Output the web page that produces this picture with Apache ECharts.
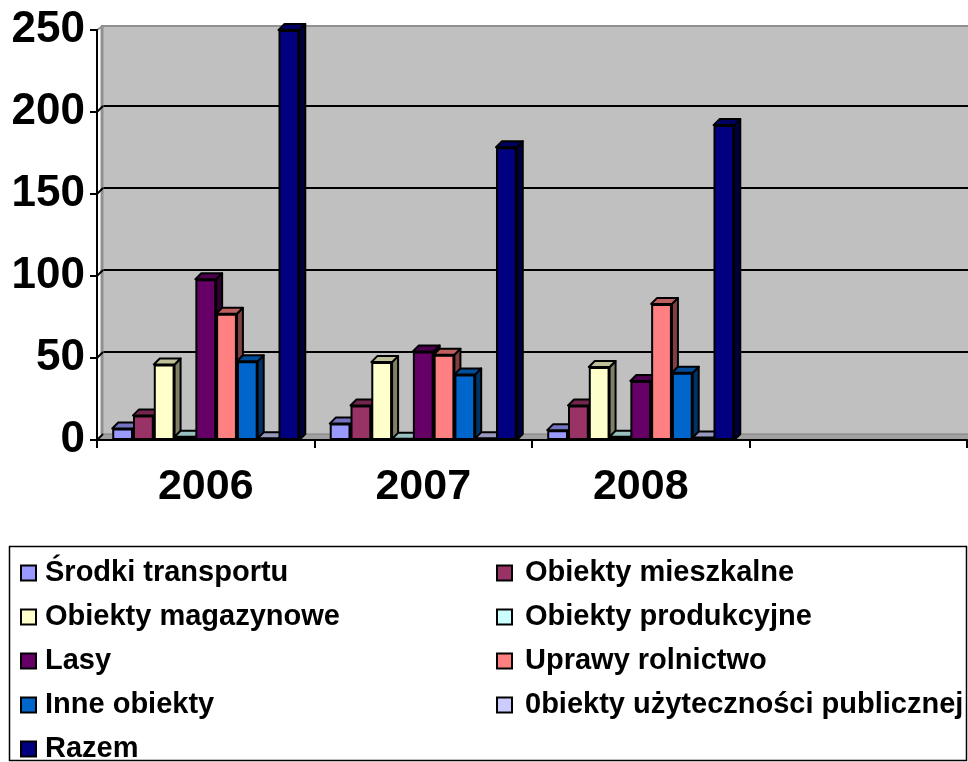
<!DOCTYPE html>
<html><head><meta charset="utf-8">
<style>html,body{margin:0;padding:0;background:#fff}#c{width:968px;height:762px}</style>
<script src="https://cdn.jsdelivr.net/npm/echarts@6/dist/echarts.min.js"></script>
</head><body><div id="c"></div>
<script>
const categories = ['2006','2007','2008',''];
const yTicks = [0,50,100,150,200,250];
const srodki = [7,10,6,null];
const mieszkalne = [15,21,21,null];
const magazynowe = [46,47.5,44.5,null];
const produkcyjne = [2,0.7,2,null];
const lasy = [98,54,36,null];
const uprawy = [77,52,83,null];
const inne = [48,40,41,null];
const publiczne = [1,1,1.5,null];
const razem = [250,178.5,192,null];
const names = ['Środki transportu','Obiekty mieszkalne','Obiekty magazynowe','Obiekty produkcyjne','Lasy','Uprawy rolnictwo','Inne obiekty','0biekty użyteczności publicznej','Razem'];
const values = [srodki,mieszkalne,magazynowe,produkcyjne,lasy,uprawy,inne,publiczne,razem];
const colors = ['#9999FF','#993366','#FFFFCC','#CCFFFF','#660066','#FF8080','#0066CC','#CCCCFF','#000080'];
const leftLegend = [names[0],names[2],names[4],names[6],names[8]];
const rightLegend = [names[1],names[3],names[5],names[7]];

const DX = 6, DY = 6, GAP = 0.14;
const font = '"Liberation Sans", Arial, sans-serif';
const shade = (hex,f)=>{const n=parseInt(hex.slice(1),16);
  return `rgb(${Math.round((n>>16&255)*f)},${Math.round((n>>8&255)*f)},${Math.round((n&255)*f)})`;};

const depthData = [];
names.forEach((_,s)=>categories.forEach((_,c)=>{ if(values[s][c]!=null) depthData.push([c,values[s][c],s]); }));
function renderDepth(params,api){
  const c=api.value(0), v=api.value(1), s=api.value(2);
  const band=api.size([1,0])[0], w=band*(1-GAP)/names.length;
  const cx=api.coord([c,0])[0], base=api.coord([c,0])[1], top=api.coord([c,v])[1];
  const l=cx-band*(1-GAP)/2+s*w, r=l+w;
  const st=(fill)=>({fill,stroke:'#000',lineWidth:2,lineJoin:'round'});
  return {type:'group',children:[
    {type:'polygon',shape:{points:[[r,top],[r+DX,top-DY],[r+DX,base-DY],[r,base]]},style:st(shade(colors[s],0.5))},
    {type:'polygon',shape:{points:[[l,top],[l+DX,top-DY],[r+DX,top-DY],[r,top]]},style:st(shade(colors[s],0.75))}
  ]};
}
function renderWalls(params,api){
  const x0=api.coord([0,0])[0]-api.size([1,0])[0]/2;
  const x1=x0+api.size([1,0])[0]*categories.length;
  const y0=api.coord([0,0])[1], y1=api.coord([0,250])[1];
  const wallTop=y1-DY+2;
  const ch=[
    {type:'rect',shape:{x:x0+DX-3,y:y1-DY-1,width:x1-x0+4,height:3},style:{fill:'#fff'}},
    {type:'polygon',shape:{points:[[x0,y0],[x0+DX,y0-DY],[x1+DX,y0-DY],[x1,y0]]},style:{fill:'#a0a0a0',stroke:'#808080',lineWidth:1}},
    {type:'line',shape:{x1:x0+DX-1,y1:wallTop,x2:x0+DX-1,y2:y0-DY},style:{stroke:'#909090',lineWidth:3}},
    {type:'line',shape:{x1:x0+DX-2,y1:wallTop,x2:x1+DX,y2:wallTop},style:{stroke:'#909090',lineWidth:2}}
  ];
  yTicks.forEach(t=>{const y=api.coord([0,t])[1];
    ch.push({type:'line',shape:{x1:x0,y1:y,x2:x0+DX,y2:y-(t===250?4:DY)},style:{stroke:t===250?'#909090':'#000',lineWidth:2}});});
  return {type:'group',children:ch};
}

const chart = echarts.init(document.getElementById('c'),null,{renderer:'canvas'});
const legendBase = {orient:'vertical',icon:'rect',itemWidth:15,itemHeight:15,itemGap:14,height:225,padding:5,selectedMode:false};
const legendText = {fontFamily:font,fontWeight:'bold',fontSize:29,color:'#000',height:30,lineHeight:30};
chart.setOption({
  animation:false,
  backgroundColor:'#fff',
  graphic:[{type:'rect',z:-1,shape:{x:9.5,y:546.5,width:957,height:214},style:{fill:'#fff',stroke:'#000',lineWidth:1.5}}],
  legend:[
    {...legendBase,left:15,top:553,data:leftLegend,textStyle:{...legendText,padding:[0,0,0,4]}},
    {...legendBase,left:491,top:553,data:rightLegend,textStyle:{...legendText,padding:[0,0,0,8]}}
  ],
  grid:[
    {left:97,width:870,top:30,height:410,z:2},
    {left:103,width:865,top:24,height:410,show:true,backgroundColor:'#C0C0C0',borderWidth:0,z:0}
  ],
  xAxis:[
    {type:'category',gridIndex:0,data:categories,z:5,
      axisLine:{lineStyle:{color:'#000',width:2}},
      axisTick:{show:true,alignWithLabel:false,length:8,lineStyle:{color:'#000',width:2}},
      axisLabel:{color:'#000',fontFamily:font,fontWeight:'bold',fontSize:43,margin:26,interval:0}},
    {type:'category',gridIndex:1,data:categories,show:false}
  ],
  yAxis:[
    {type:'value',gridIndex:0,min:0,max:250,interval:50,z:5,
      axisLine:{show:true,lineStyle:{color:'#000',width:2}},
      axisTick:{show:true,length:7,lineStyle:{color:'#000',width:2}},
      splitLine:{show:false},
      axisLabel:{color:'#000',fontFamily:font,fontWeight:'bold',fontSize:44,margin:12,padding:[2,0,0,0]}},
    {type:'value',gridIndex:1,min:0,max:250,interval:50,
      axisLine:{show:false},axisTick:{show:false},axisLabel:{show:false},
      splitLine:{show:true,showMinLine:false,showMaxLine:false,lineStyle:{color:'#000',width:2}}}
  ],
  series:[
    {type:'custom',name:'walls',xAxisIndex:0,yAxisIndex:0,data:[[0,0]],renderItem:renderWalls,z:1,silent:true,clip:false,encode:{x:0,y:1}},
    {type:'custom',name:'depth',xAxisIndex:0,yAxisIndex:0,data:depthData,renderItem:renderDepth,z:2,silent:true,clip:false,encode:{x:0,y:1}},
    ...names.map((n,i)=>({type:'bar',name:n,xAxisIndex:0,yAxisIndex:0,data:values[i],z:3,
      barGap:0,barCategoryGap:(GAP*100)+'%',
      itemStyle:{color:colors[i],borderColor:'#000',borderWidth:2}}))
  ]
});
</script></body></html>
